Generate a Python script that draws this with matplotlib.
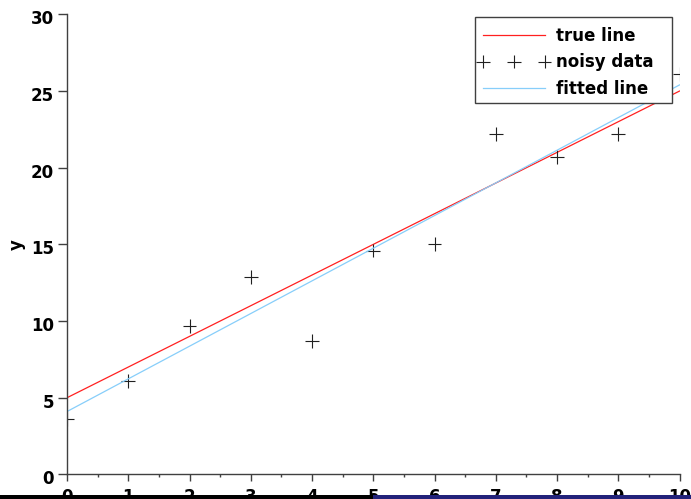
import matplotlib
matplotlib.use("Agg")
import matplotlib.pyplot as plt
from matplotlib.patches import Rectangle
import matplotlib.transforms as mtransforms
import numpy as np

plt.rcParams['font.family'] = ['DejaVu Sans']

# data
x_data = [0, 1, 2, 3, 4, 5, 6, 7, 8, 9, 10]
y_noisy = [3.6, 6.1, 9.7, 12.9, 8.7, 14.6, 15.0, 22.2, 20.7, 22.2, 26.1]
x_line = [0, 10]
y_true = [5.0, 25.0]
y_fit = [4.1, 25.4]
x_ticks = [0, 1, 2, 3, 4, 5, 6, 7, 8, 9, 10]
y_ticks = [0, 5, 10, 15, 20, 25, 30]

W, H = 691, 499
fig = plt.figure(figsize=(W / 100, H / 100), dpi=100)
ax = fig.add_axes([67 / W, (H - 474.4) / H, (679.5 - 67) / W, (474.4 - 14.4) / H])

axc = '#404040'
ax.plot(x_line, y_true, color='#ff2020', lw=0.9, label='true line')
# per-point sizes so that markers are clipped at the axes edge
ax.scatter(x_data, y_noisy, marker='+', s=[100] * len(x_data), linewidths=0.8,
           color='#202020', label='noisy data', zorder=2)
ax.plot(x_line, y_fit, color='#87cefa', lw=0.9, label='fitted line')

ax.set_xlim(0, 10)
ax.set_ylim(0, 30)
ax.set_xticks(x_ticks)
ax.set_xticks(np.arange(0.5, 10, 1.0), minor=True)
ax.set_yticks(y_ticks)

for s in ['top', 'right']:
    ax.spines[s].set_visible(False)
for s in ['left', 'bottom']:
    ax.spines[s].set_color(axc)
    ax.spines[s].set_linewidth(1.0)

ax.tick_params(axis='x', which='major', direction='out', length=5, width=1,
               color=axc, pad=5, labelsize=12)
ax.tick_params(axis='x', which='minor', direction='out', length=2.5, width=1,
               color=axc)
ax.tick_params(axis='y', which='major', direction='out', length=6.5, width=1,
               color=axc, pad=3, labelsize=12)
off = mtransforms.ScaledTranslation(0, -3 / 100, fig.dpi_scale_trans)
for lab in ax.get_yticklabels():
    lab.set_transform(lab.get_transform() + off)
for lab in ax.get_xticklabels() + ax.get_yticklabels():
    lab.set_fontweight('bold')

ax.set_ylabel('y', fontsize=12, fontweight='bold', va='center')
ax.yaxis.set_label_coords((17 - 67) / (679.5 - 67), (474.4 - 245) / 460)

leg = ax.legend(loc='upper right', bbox_to_anchor=(654 / W, 1 - 27 / H),
                bbox_transform=fig.transFigure, numpoints=3, scatterpoints=3,
                scatteryoffsets=[0.5], frameon=False,
                borderaxespad=0, borderpad=0,
                prop={'size': 12, 'weight': 'bold'},
                handlelength=4.3, handletextpad=0.42, labelspacing=0.5)
leg.set_zorder(6)
# legend box
box = Rectangle((475 / W, 1 - 103 / H), (672 - 475) / W, (103 - 17) / H,
                transform=fig.transFigure, facecolor='white',
                edgecolor=axc, linewidth=1.0, zorder=5, clip_on=False)
ax.add_artist(box)

# bottom strip
fig.patches.append(Rectangle((0, 0), 373 / W, 4 / H, transform=fig.transFigure,
                             facecolor='black', edgecolor='none', zorder=10))
fig.patches.append(Rectangle((373 / W, 0), 1 - 373 / W, 4 / H, transform=fig.transFigure,
                             facecolor='#22227a', edgecolor='none', zorder=10))

fig.savefig('out.png', dpi=100)
